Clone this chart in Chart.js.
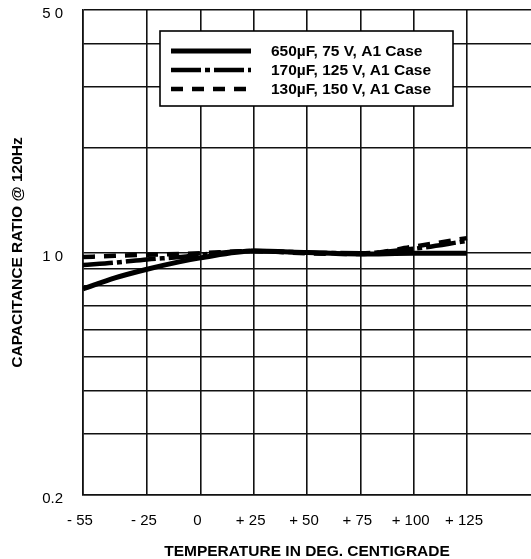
<!DOCTYPE html>
<html>
<head>
<meta charset="utf-8">
<script src="https://cdn.jsdelivr.net/npm/chart.js@4.4.1/dist/chart.umd.min.js"></script>
<style>
  html, body { margin: 0; padding: 0; background: #fff; }
</style>
</head>
<body>
<canvas id="chart" width="531" height="559"></canvas>
<script>
// temperature points (deg C) and capacitance ratio for each part
const temps = [-55, -40, -25, -10, 0, 25, 50, 75, 100, 125];
const cap650 = [0.785, 0.845, 0.895, 0.94, 0.965, 1.01, 1.0, 0.99, 0.995, 0.995];
const cap170 = [0.92, 0.935, 0.955, 0.97, 0.985, 1.01, 1.0, 0.995, 1.025, 1.08];
const cap130 = [0.97, 0.978, 0.985, 0.99, 0.995, 1.01, 0.995, 0.99, 1.04, 1.10];

const seriesLabels = ["650\u00b5F, 75 V, A1 Case", "170\u00b5F, 125 V, A1 Case", "130\u00b5F, 150 V, A1 Case"];

const xTickValues = [-55, -25, 0, 25, 50, 75, 100, 125];
const xTickLabels = ["- 55", "- 25", "0", "+ 25", "+ 50", "+ 75", "+ 100", "+ 125"];
const yTickValues = [0.2, 0.3, 0.4, 0.5, 0.6, 0.7, 0.8, 0.9, 1, 2, 3, 4, 5];
const yLabelValues = [0.2, 1, 5];
const yLabelText = ["0.2", "1 0", "5 0"];

Chart.defaults.font.family = "'Liberation Sans', Arial, Helvetica, sans-serif";
Chart.defaults.color = "#000";

const toPoints = (arr) => temps.map((t, i) => ({ x: t, y: arr[i] }));

// boxed legend drawn inside the plot, over the grid
const boxLegend = {
  id: "boxLegend",
  afterDatasetsDraw(chart) {
    const ctx = chart.ctx;
    const x0 = 160, y0 = 31, w = 293, h = 75;
    ctx.save();
    ctx.fillStyle = "#fff";
    ctx.fillRect(x0, y0, w, h);
    ctx.strokeStyle = "#000";
    ctx.lineWidth = 1.6;
    ctx.strokeRect(x0, y0, w, h);
    ctx.font = "bold 15.5px 'Liberation Sans', Arial, sans-serif";
    ctx.textBaseline = "middle";
    ctx.fillStyle = "#000";
    chart.data.datasets.forEach((ds, i) => {
      const y = 51 + i * 19;
      ctx.beginPath();
      ctx.setLineDash(ds.borderDash || []);
      ctx.lineWidth = ds.borderWidth;
      ctx.strokeStyle = ds.borderColor;
      ctx.moveTo(171, y);
      ctx.lineTo(251, y);
      ctx.stroke();
      ctx.setLineDash([]);
      ctx.fillText(ds.label, 271, y + 1);
    });
    ctx.restore();
  }
};

// no extra room for the end tick labels, the plot runs edge to edge
const noEdgePadding = (s) => {
  s.paddingTop = 0;
  s.paddingBottom = 0;
  s.paddingLeft = 0;
  s.paddingRight = 0;
};

new Chart(document.getElementById("chart"), {
  type: "line",
  data: {
    datasets: [
      { label: seriesLabels[0], data: toPoints(cap650), borderColor: "#000", borderWidth: 5, borderDash: [] },
      { label: seriesLabels[1], data: toPoints(cap170), borderColor: "#000", borderWidth: 4.5, borderDash: [30, 4, 5, 4] },
      { label: seriesLabels[2], data: toPoints(cap130), borderColor: "#000", borderWidth: 4.5, borderDash: [12, 9] }
    ]
  },
  options: {
    responsive: false,
    animation: false,
    devicePixelRatio: 1,
    layout: { padding: { top: 10, left: 0, right: 0, bottom: 0 } },
    elements: {
      point: { radius: 0 },
      line: { cubicInterpolationMode: "monotone", fill: false }
    },
    plugins: {
      legend: { display: false },
      tooltip: { enabled: false }
    },
    scales: {
      x: {
        type: "linear",
        min: -55,
        max: 155,
        afterBuildTicks: (s) => { s.ticks = xTickValues.map((v) => ({ value: v })); },
        afterFit: (s) => { s.height = 64; noEdgePadding(s); },
        grid: { color: "#111", lineWidth: 1.6, drawTicks: false },
        border: { display: true, color: "#111", width: 1.6 },
        ticks: {
          autoSkip: false,
          maxRotation: 0,
          padding: 17,
          labelOffset: -3,
          font: { size: 15 },
          callback: (v, i) => xTickLabels[i]
        },
        title: {
          display: true,
          text: "TEMPERATURE IN DEG. CENTIGRADE",
          font: { size: 15.5, weight: "bold", lineHeight: 1.0 },
          padding: { top: 0, bottom: 0 }
        }
      },
      y: {
        type: "logarithmic",
        min: 0.2,
        max: 5,
        afterBuildTicks: (s) => { s.ticks = yTickValues.map((v) => ({ value: v })); },
        afterFit: (s) => { s.width = 83; noEdgePadding(s); },
        grid: { color: "#111", lineWidth: 1.6, drawTicks: false },
        border: { display: true, color: "#111", width: 1.6 },
        ticks: {
          autoSkip: false,
          padding: 20,
          labelOffset: 4,
          font: { size: 15 },
          callback: (v) => {
            const i = yLabelValues.indexOf(v);
            return i >= 0 ? yLabelText[i] : "";
          }
        },
        title: {
          display: true,
          text: "CAPACITANCE RATIO @ 120Hz",
          font: { size: 15.5, weight: "bold", lineHeight: 1.2 },
          padding: { top: 8, bottom: 0 }
        }
      }
    }
  },
  plugins: [boxLegend]
});
</script>
</body>
</html>
